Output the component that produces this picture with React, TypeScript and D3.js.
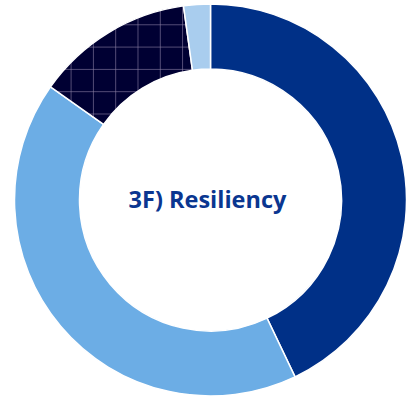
import React from "react";
import * as d3 from "d3";

const categories = ["A", "B", "C", "D"];
const values = [42.9, 41.9, 13.0, 2.2];
const colors = ["#003087", "#6CADE5", "url(#grid)", "#A9CDEE"];
const title = "3F) Resiliency";

export default function App() {
  const W = 409, H = 396;
  const cx = 210.5, cy = 200, R = 196, r = 131;
  const pie = d3.pie<number>().sort(null).value((d) => d);
  const arcs = pie(values);
  const arc = d3.arc<d3.PieArcDatum<number>>().innerRadius(r).outerRadius(R);
  return (
    <svg width={W} height={H} style={{ position: "absolute", left: 0, top: 0 }}>
      <defs>
        <pattern id="grid" patternUnits="userSpaceOnUse" width={22.3} height={22.3} x={cx + 6.4} y={cy + 3.4}>
          <rect width={22.3} height={22.3} fill="#000033" />
          <line x1={0} y1={0} x2={22.3} y2={0} stroke="#8A7FA3" strokeWidth={1.2} />
          <line x1={0} y1={0} x2={0} y2={22.3} stroke="#8A7FA3" strokeWidth={1.2} />
        </pattern>
      </defs>
      <g transform={`translate(${cx},${cy})`}>
        {arcs.map((a, i) => (
          <path key={categories[i]} d={arc(a) || ""} fill={colors[i]} stroke="#fff" strokeWidth={1.5} />
        ))}
        <text x={-3} y={0} dy="0.35em" textAnchor="middle" fontFamily="'Open Sans', sans-serif" fontWeight="bold" fontSize={23.5} fill="#0A3690">
          {title}
        </text>
      </g>
    </svg>
  );
}
